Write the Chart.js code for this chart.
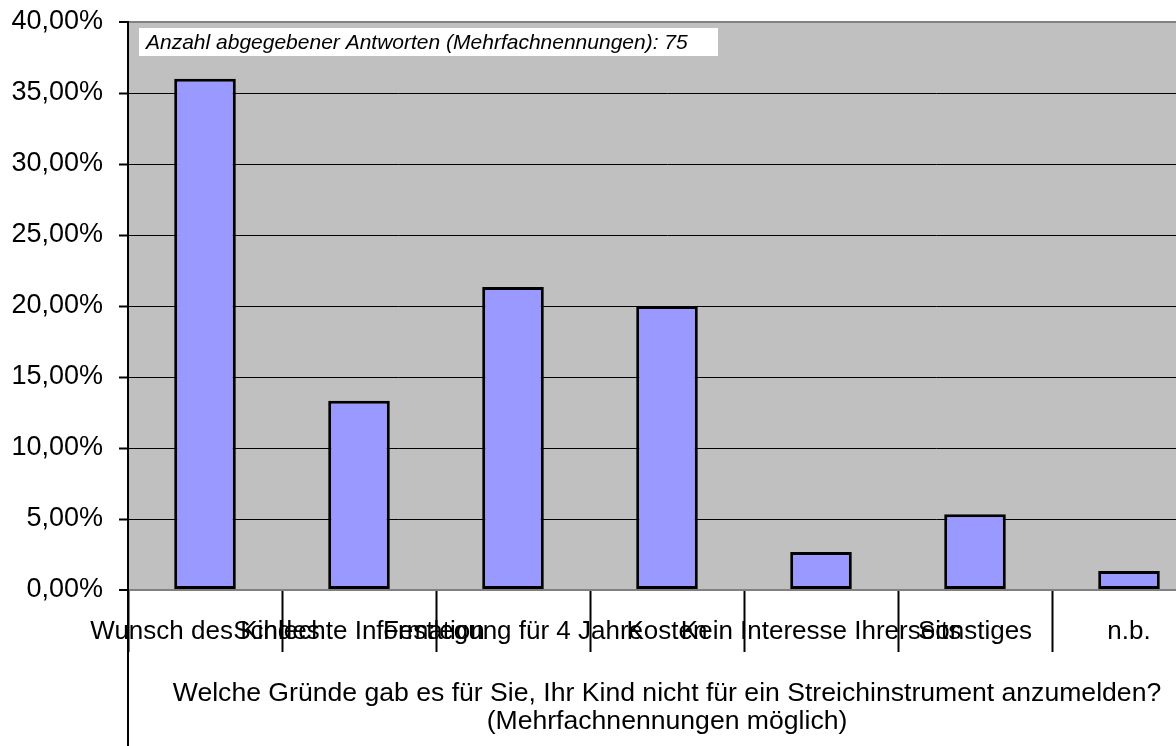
<!DOCTYPE html>
<html>
<head>
<meta charset="utf-8">
<script src="https://cdn.jsdelivr.net/npm/chart.js@4/dist/chart.umd.min.js"></script>
<style>
html,body{margin:0;padding:0;background:#fff;overflow:hidden;width:1176px;height:746px;}
#wrap{width:1210px;height:746px;position:relative;}
</style>
</head>
<body>
<div id="wrap"><canvas id="c" width="1210" height="746"></canvas></div>
<script>
const categories = ["Wunsch des Kindes", "Schlechte Information", "Festlegung für 4 Jahre", "Kosten", "Kein Interesse Ihrerseits", "Sonstiges", "n.b."];
const percentValues = [36.00, 13.33, 21.33, 20.00, 2.67, 5.33, 1.33];
const yTickValues = [0, 5, 10, 15, 20, 25, 30, 35, 40];
const yTickLabels = ["0,00%", "5,00%", "10,00%", "15,00%", "20,00%", "25,00%", "30,00%", "35,00%", "40,00%"];
const axisTitleLines = ["Welche Gründe gab es für Sie, Ihr Kind nicht für ein Streichinstrument anzumelden?", "(Mehrfachnennungen möglich)"];
const noteText = "Anzahl abgegebener Antworten (Mehrfachnennungen): 75";

const FONT = "'Liberation Sans', Arial, sans-serif";

const decor = {
  id: 'decor',
  beforeDraw(chart) {
    const a = chart.chartArea, ctx = chart.ctx;
    ctx.save();
    ctx.fillStyle = '#c0c0c0';
    ctx.fillRect(a.left, a.top, a.right - a.left, a.bottom - a.top);
    ctx.restore();
  },
  afterDraw(chart) {
    const a = chart.chartArea, ctx = chart.ctx;
    ctx.save();
    ctx.strokeStyle = '#000';
    ctx.lineWidth = 2;
    ctx.beginPath();
    ctx.moveTo(a.left, a.bottom);
    ctx.lineTo(a.left, chart.height);
    ctx.stroke();
    ctx.fillStyle = '#fff';
    ctx.fillRect(a.left + 11, a.top + 6, 579, 28);
    ctx.fillStyle = '#000';
    ctx.font = 'italic 21px ' + FONT;
    ctx.textBaseline = 'middle';
    ctx.textAlign = 'left';
    ctx.fillText(noteText, a.left + 18, a.top + 21);
    ctx.restore();
  }
};

new Chart(document.getElementById('c'), {
  type: 'bar',
  data: {
    labels: categories,
    datasets: [{
      data: percentValues,
      backgroundColor: '#9999ff',
      borderColor: '#000000',
      borderWidth: 3,
      borderSkipped: false,
      categoryPercentage: 0.4,
      barPercentage: 1.0
    }]
  },
  options: {
    responsive: false,
    animation: false,
    layout: { padding: { left: 12, top: 22, right: 4, bottom: 0 } },
    plugins: { legend: { display: false }, tooltip: { enabled: false } },
    scales: {
      x: {
        offset: true,
        afterFit(s) { s.height = 156; s.paddingLeft = 0; s.paddingRight = 0; },
        grid: {
          offset: true,
          drawOnChartArea: false,
          drawTicks: true,
          tickLength: 62,
          tickColor: '#000',
          tickWidth: 2,
          color: '#000'
        },
        border: { display: true, color: '#808080', width: 2 },
        ticks: {
          autoSkip: false,
          maxRotation: 0,
          minRotation: 0,
          padding: -36,
          color: '#000',
          font: { family: FONT, size: 26, lineHeight: 1.2 }
        },
        title: {
          display: true,
          text: axisTitleLines,
          color: '#000',
          font: { family: FONT, size: 26.6, lineHeight: 1.05 },
          padding: { top: 31, bottom: 10 }
        }
      },
      y: {
        min: 0,
        max: 40,
        afterFit(s) { s.width = 116; s.paddingTop = 0; s.paddingBottom = 0; },
        afterBuildTicks(scale) { scale.ticks = yTickValues.map(v => ({ value: v })); },
        grid: {
          color: c => (c.tick && (c.tick.value === 0 || c.tick.value === 40)) ? '#808080' : '#000',
          lineWidth: c => (c.tick && (c.tick.value === 0 || c.tick.value === 40)) ? 2 : 1,
          tickColor: '#000',
          tickLength: 9,
          tickWidth: 2
        },
        border: { display: true, color: '#000', width: 2 },
        ticks: {
          padding: 16,
          color: '#000',
          font: { family: FONT, size: 27 },
          callback: (v) => yTickLabels[yTickValues.indexOf(v)]
        }
      }
    }
  },
  plugins: [decor]
});
</script>
</body>
</html>
